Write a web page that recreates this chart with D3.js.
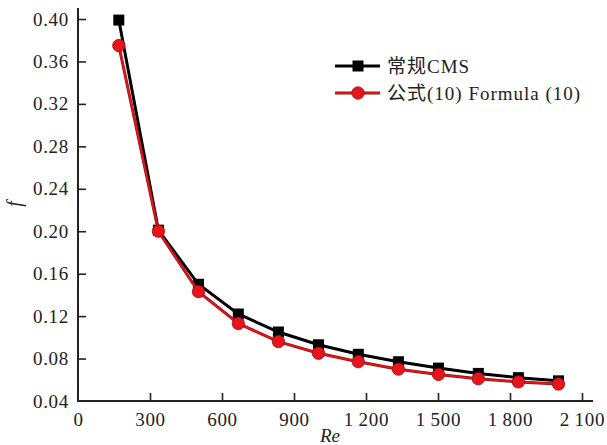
<!DOCTYPE html>
<head>
  <meta charset="utf-8">
  <title>f - Re</title>
  <style>
    body { margin: 0; background: #fff; }
    text { font-family: "Liberation Serif", "Noto Sans CJK SC", serif; fill: #222; }
    .axis text { font-family: "Liberation Serif", serif; font-size: 19px; letter-spacing: 0.7px; }
    .axis line { stroke: #222; stroke-width: 1.6px; }
  </style>
</head>
<body>
  <div id="chart"></div>
  <script src="https://cdn.jsdelivr.net/npm/d3@7/dist/d3.min.js"></script>
  <script>
    var width = 607,
        height = 445;

    // Re values for the 12 points
    var reValues = [170, 335, 502, 668, 835, 1002, 1168, 1335, 1502, 1668, 1835, 2002];
    // 常规CMS
    var fCms = [0.399, 0.201, 0.150, 0.122, 0.105, 0.093, 0.084, 0.077, 0.071, 0.066, 0.062, 0.059];
    // 公式(10)
    var fFormula = [0.375, 0.200, 0.143, 0.113, 0.096, 0.085, 0.077, 0.070, 0.065, 0.061, 0.058, 0.056];

    var xTicks = [0, 300, 600, 900, 1200, 1500, 1800, 2100];
    var yTicks = [0.04, 0.08, 0.12, 0.16, 0.20, 0.24, 0.28, 0.32, 0.36, 0.40];

    var series = [
      { name: "常规CMS", values: fCms, color: "#000", edge: "#000", marker: "square" },
      { name: "公式(10) Formula (10)", values: fFormula, color: "#e8141c", edge: "#9a1010", marker: "circle" }
    ];

    var svg = d3.select("#chart")
        .append("svg")
        .attr("width", width)
        .attr("height", height);

    var x = d3.scaleLinear().domain([0, 2100]).range([78, 582]);
    var y = d3.scaleLinear().domain([0.04, 0.40]).range([401, 19]);

    var fmtX = function(d) { return d3.format(",")(d).replace(",", "\u2009"); };

    var gx = svg.append("g")
        .attr("class", "axis")
        .attr("transform", "translate(0," + y(0.04) + ")")
        .call(d3.axisBottom(x).tickValues(xTicks).tickFormat(fmtX).tickSizeInner(-8).tickSizeOuter(0).tickPadding(12));
    gx.select(".domain").remove();
    gx.selectAll(".tick").filter(function(d) { return d === 0; }).select("line").remove();

    var gy = svg.append("g")
        .attr("class", "axis")
        .attr("transform", "translate(" + x(0) + ",0)")
        .call(d3.axisLeft(y).tickValues(yTicks).tickFormat(d3.format(".2f")).tickSizeInner(-8).tickSizeOuter(0).tickPadding(9));
    gy.select(".domain").remove();
    gy.selectAll(".tick").filter(function(d) { return d === 0.04; }).select("line").remove();

    // axis lines, a bit longer than the data range like the original
    svg.append("path")
        .attr("d", "M" + x(0) + "," + (y(0.40) - 11) + "V" + y(0.04) + "H" + (x(2100) + 11))
        .attr("fill", "none")
        .attr("stroke", "#222")
        .attr("stroke-width", 2);

    svg.append("text")
        .attr("transform", "translate(21,204) rotate(-90)")
        .attr("text-anchor", "middle")
        .style("font-style", "italic")
        .style("font-size", "20px")
        .text("f");

    svg.append("text")
        .attr("x", 330)
        .attr("y", 442)
        .attr("text-anchor", "middle")
        .style("font-style", "italic")
        .style("font-size", "19px")
        .text("Re");

    var line = d3.line()
        .x(function(d, i) { return x(reValues[i]); })
        .y(function(d) { return y(d); });

    function drawMarker(sel, s, cx, cy) {
      if (s.marker === "square") {
        sel.append("rect")
          .attr("x", cx - 5.5).attr("y", cy - 5.5)
          .attr("width", 11).attr("height", 11)
          .attr("fill", s.color);
      } else {
        sel.append("circle")
          .attr("cx", cx).attr("cy", cy).attr("r", 6.2)
          .attr("fill", s.color)
          .attr("stroke", s.edge)
          .attr("stroke-width", 0.8);
      }
    }

    series.forEach(function(s) {
      svg.append("path")
        .datum(s.values)
        .attr("d", line)
        .attr("fill", "none")
        .attr("stroke", s.edge)
        .attr("stroke-width", 3);
      svg.append("path")
        .datum(s.values)
        .attr("d", line)
        .attr("fill", "none")
        .attr("stroke", s.color)
        .attr("stroke-width", 1.6);
      var g = svg.append("g");
      s.values.forEach(function(v, i) { drawMarker(g, s, x(reValues[i]), y(v)); });
    });

    // legend
    var legend = svg.append("g").attr("transform", "translate(335,66)");
    series.forEach(function(s, i) {
      var row = legend.append("g").attr("transform", "translate(0," + (i * 27) + ")");
      row.append("line")
        .attr("x1", 0).attr("x2", 45)
        .attr("stroke", s.edge).attr("stroke-width", 3);
      row.append("line")
        .attr("x1", 0).attr("x2", 45)
        .attr("stroke", s.color).attr("stroke-width", 1.6);
      drawMarker(row, s, 23, 0);
      row.append("text")
        .attr("x", 52)
        .attr("dy", "0.35em")
        .style("font-size", "19px")
        .style("letter-spacing", "1px")
        .text(s.name);
    });
  </script>
</body>
